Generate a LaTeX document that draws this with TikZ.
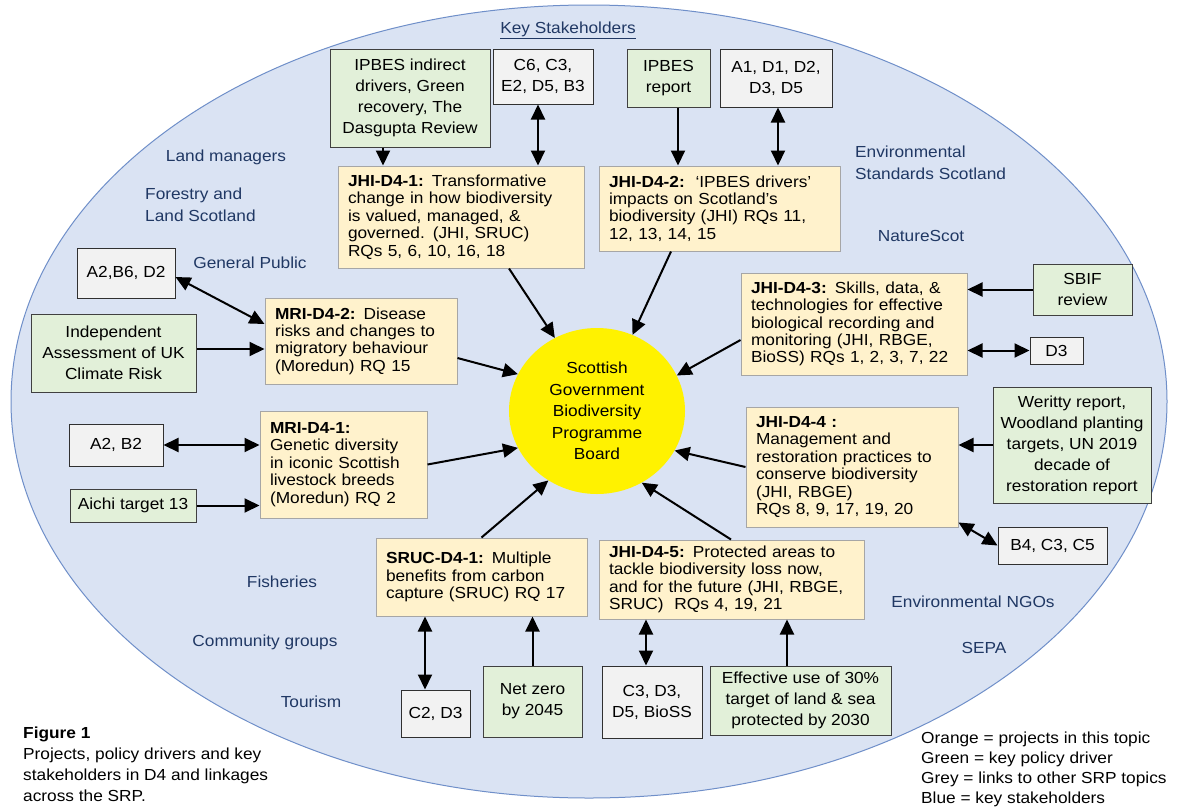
\documentclass[tikz,border=0pt]{standalone}
\usepackage{fontspec}
\setmainfont[FakeStretch=1.08]{Liberation Sans}
\usetikzlibrary{arrows.meta,shapes.geometric,calc}
\definecolor{ellfill}{HTML}{DAE3F3}
\definecolor{elldraw}{HTML}{6F8FC9}
\definecolor{orfill}{HTML}{FFF2CC}
\definecolor{ordraw}{HTML}{A6A6A6}
\definecolor{grfill}{HTML}{E2F0D9}
\definecolor{grdraw}{HTML}{404040}
\definecolor{gyfill}{HTML}{F2F2F2}
\definecolor{gydraw}{HTML}{303030}
\definecolor{navy}{HTML}{203864}
\begin{document}
\begin{tikzpicture}[x=1pt,y=-1pt,
  proj/.style={rectangle, draw=ordraw, fill=orfill, line width=1pt,
    font=\fontsize{16}{17.4}\selectfont, align=left, inner xsep=10pt, inner ysep=0pt},
  policy/.style={rectangle, draw=grdraw, fill=grfill, line width=1pt,
    font=\fontsize{16}{21}\selectfont, align=center, inner sep=1pt},
  link/.style={rectangle, draw=gydraw, fill=gyfill, line width=1pt,
    font=\fontsize{16}{21}\selectfont, align=center, inner sep=1pt},
  holder/.style={text=navy, font=\fontsize{16}{21.5}\selectfont, inner sep=0pt},
  note/.style={text=black, font=\fontsize{16}{21}\selectfont, inner sep=0pt, align=left},
  arr/.style={line width=2pt, -{Triangle[length=15pt,width=14pt]}},
  dbl/.style={line width=2pt, {Triangle[length=15pt,width=14pt]}-{Triangle[length=15pt,width=14pt]}}
]
\useasboundingbox (0,0) rectangle (1178,809);
\fill[white] (0,0) rectangle (1178,809);
% stakeholder ellipse
\draw[fill=ellfill, draw=elldraw, line width=1pt] (589,401.5) ellipse [x radius=578, y radius=396.5];

% central board
\node[ellipse, fill=yellow, minimum width=176, minimum height=166, inner sep=0pt,
  align=center, font=\fontsize{16}{21.5}\selectfont] (circ) at (597,411)
  {Scottish\\Government\\Biodiversity\\Programme\\Board};

% stakeholders
\node[holder] (ks) at (568,30) {\underline{Key Stakeholders}};
\node[holder] (lm) at (226,157) {Land managers};
\node[holder, anchor=west, align=left] (fls) at (145,205) {Forestry and\\Land Scotland};
\node[holder] (gp) at (250,263) {General Public};
\node[holder, anchor=west, align=left] (ess) at (855,163) {Environmental\\Standards Scotland};
\node[holder] (ns) at (921,236) {NatureScot};
\node[holder] (fi) at (282,582) {Fisheries};
\node[holder] (cg) at (265,642) {Community groups};
\node[holder] (to) at (311,702) {Tourism};
\node[holder] (ngo) at (973,602) {Environmental NGOs};
\node[holder] (sepa) at (984,648) {SEPA};

% projects (orange)
\node[proj, minimum width=246, minimum height=102, text width=226] (o1) at (461,217)
  {\textbf{JHI-D4-1:} Transformative\\change in how biodiversity\\is valued, managed, \&\\governed. (JHI, SRUC)\\RQs 5, 6, 10, 16, 18};
\node[proj, minimum width=241, minimum height=85, text width=221] (o2) at (719.5,208.5)
  {\textbf{JHI-D4-2:}\ \ ‘IPBES drivers’\\impacts on Scotland’s\\biodiversity (JHI) RQs 11,\\12, 13, 14, 15};
\node[proj, minimum width=192, minimum height=86, text width=172] (o3) at (361,341)
  {\textbf{MRI-D4-2:} Disease\\risks and changes to\\migratory behaviour\\(Moredun) RQ 15};
\node[proj, minimum width=167, minimum height=107, text width=147] (o4) at (343.5,464.5)
  {\textbf{MRI-D4-1:}\\Genetic diversity\\in iconic Scottish\\livestock breeds\\(Moredun) RQ 2};
\node[proj, minimum width=226, minimum height=102, text width=206] (o5) at (854,324)
  {\textbf{JHI-D4-3:} Skills, data, \&\\technologies for effective\\biological recording and\\monitoring (JHI, RBGE,\\BioSS) RQs 1, 2, 3, 7, 22};
\node[proj, minimum width=212, minimum height=120, text width=192] (o6) at (852,467)
  {\textbf{JHI-D4-4 :}\\Management and\\restoration practices to\\conserve biodiversity\\(JHI, RBGE)\\RQs 8, 9, 17, 19, 20};
\node[proj, minimum width=211, minimum height=78, text width=191] (o7) at (481.5,577)
  {\textbf{SRUC-D4-1:} Multiple\\benefits from carbon\\capture (SRUC) RQ 17};
\node[proj, minimum width=265, minimum height=79, text width=245] (o8) at (731.5,579.5)
  {\textbf{JHI-D4-5:} Protected areas to\\tackle biodiversity loss now,\\and for the future (JHI, RBGE,\\SRUC)\ \ RQs 4, 19, 21};

% policy drivers (green)
\node[policy, minimum width=160, minimum height=98] (g1) at (410,98)
  {IPBES indirect\\drivers, Green\\recovery, The\\Dasgupta Review};
\node[policy, minimum width=83, minimum height=58] (g2) at (668.5,78) {IPBES\\report};
\node[policy, minimum width=165, minimum height=78] (g3) at (113.5,353)
  {Independent\\Assessment of UK\\Climate Risk};
\node[policy, minimum width=126, minimum height=33] (g4) at (133,505.5) {Aichi target 13};
\node[policy, minimum width=99, minimum height=51] (g5) at (1082.5,289.5) {SBIF\\review};
\node[policy, minimum width=158, minimum height=116] (g6) at (1072,445)
  {Weritty report,\\Woodland planting\\targets, UN 2019\\decade of\\restoration report};
\node[policy, minimum width=99, minimum height=71] (g7) at (532.5,701.5) {Net zero\\by 2045};
\node[policy, minimum width=181, minimum height=69] (g8) at (800.5,700.5)
  {Effective use of 30\%\\target of land \& sea\\protected by 2030};

% links to other SRP topics (grey)
\node[link, minimum width=100, minimum height=55] (r1) at (543,76.5) {C6, C3,\\E2, D5, B3};
\node[link, minimum width=112, minimum height=58] (r2) at (776,78) {A1, D1, D2,\\D3, D5};
\node[link, minimum width=98, minimum height=50] (r3) at (126,273) {A2,B6, D2};
\node[link, minimum width=94, minimum height=42] (r4) at (116,445) {A2, B2};
\node[link, minimum width=53, minimum height=27] (r5) at (1056.5,350.5) {D3};
\node[link, minimum width=109, minimum height=37] (r6) at (1052.5,545.5) {B4, C3, C5};
\node[link, minimum width=69, minimum height=47] (r7) at (435.5,713.5) {C2, D3};
\node[link, minimum width=100, minimum height=72] (r8) at (652,702) {C3, D3,\\D5, BioSS};

% projects -> board
\draw[arr] ([xshift=48pt]o1.south) -- (circ.120);
\draw[arr] ([xshift=-48.5pt]o2.south) -- (circ.65);
\draw[arr] ([yshift=-17pt]o3.east) -- (circ.155);
\draw[arr] (o4.east) -- (circ.205);
\draw[arr] ([yshift=-16pt]o5.west) -- (circ.24);
\draw[arr] (o6.west) -- (circ.333);
\draw[arr] (o7.north) -- (circ.235);
\draw[arr] ([xshift=-0.5pt]o8.north) -- (circ.302);

% drivers -> projects
\draw[arr] ([xshift=-27pt]g1.south) -- ([xshift=-27pt]g1.south |- o1.north);
\draw[arr] ([xshift=9.5pt]g2.south) -- ([xshift=9.5pt]g2.south |- o2.north);
\draw[arr] ([yshift=4pt]g3.east) -- ([yshift=4pt]g3.east -| o3.west);
\draw[arr] (g4.east) -- (g4.east -| o4.west);
\draw[arr] (g5.west) -- (g5.west -| o5.east);
\draw[arr] (g6.west) -- (g6.west -| o6.east);
\draw[arr] (g7.north) -- (g7.north |- o7.south);
\draw[arr] ([xshift=-13.5pt]g8.north) -- ([xshift=-13.5pt]g8.north |- o8.south);

% links <-> projects
\draw[dbl] ([xshift=-5pt]r1.south) -- ([xshift=-5pt]r1.south |- o1.north);
\draw[dbl] ([xshift=2pt]r2.south) -- ([xshift=2pt]r2.south |- o2.north);
\draw[dbl] ([yshift=-4pt]r3.east) -- ([yshift=17pt]o3.west);
\draw[dbl] (r4.east) -- (r4.east -| o4.west);
\draw[dbl] (r5.west) -- (r5.west -| o5.east);
\draw[dbl] ([yshift=5pt]o6.south east) -- (r6.west);
\draw[dbl] ([xshift=-10.5pt]r7.north) -- ([xshift=-10.5pt]r7.north |- o7.south);
\draw[dbl] ([xshift=-6pt]r8.north) -- ([xshift=-6pt]r8.north |- o8.south);

% caption and legend
\node[note, anchor=north west] (cap) at (23,727)
  {\textbf{Figure 1}\\Projects, policy drivers and key\\stakeholders in D4 and linkages\\across the SRP.};
\node[note, anchor=north west, font=\fontsize{16}{20}\selectfont] (leg) at (921,732)
  {Orange = projects in this topic\\Green = key policy driver\\Grey = links to other SRP topics\\Blue = key stakeholders};
\end{tikzpicture}
\end{document}
